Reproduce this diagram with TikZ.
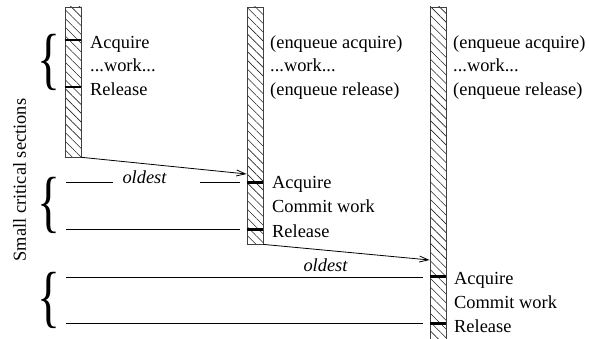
\documentclass[tikz,border=0pt]{standalone}
\usepackage{fontspec}
\setmainfont{Liberation Serif}
\usetikzlibrary{patterns.meta,arrows.meta}
\begin{document}
\begin{tikzpicture}[x=1pt,y=-1pt,
  bar/.style={draw=black!75, line width=0.8pt, minimum width=16pt, inner sep=0pt,
    pattern={Lines[angle=-45,distance=6.2pt,line width=0.6pt]}, pattern color=black!85},
  tickmark/.style={line width=2.6pt},
  conn/.style={line width=0.8pt},
  arr/.style={line width=0.8pt, -{Straight Barb[length=9pt,width=6pt]}},
  lbl/.style={anchor=base west, inner sep=0pt, font=\fontsize{18.4}{22}\selectfont},
  oldlbl/.style={anchor=base, inner sep=0pt, font=\fontsize{18.4}{22}\selectfont\itshape},
  bracenode/.style={inner sep=0pt, font=\fontsize{18.4}{22}\selectfont}]
\useasboundingbox (0,0) rectangle (589,339);
\clip (0,0) rectangle (589,339);

% bars
\node[bar, minimum height=150pt] (b1) at (73,82) {};
\node[bar, minimum height=237pt] (b2) at (255,125.5) {};
\node[bar, minimum height=338pt] (b3) at (438,176) {};

% ticks
\draw[tickmark] (b1.west |- 0,40) -- (b1.east |- 0,40);
\draw[tickmark] (b1.west |- 0,87) -- (b1.east |- 0,87);
\draw[tickmark] (b2.west |- 0,182.5) -- (b2.east |- 0,182.5);
\draw[tickmark] (b2.west |- 0,229.5) -- (b2.east |- 0,229.5);
\draw[tickmark] (b3.west |- 0,276.5) -- (b3.east |- 0,276.5);
\draw[tickmark] (b3.west |- 0,323.5) -- (b3.east |- 0,323.5);

% texts bar 1
\node[lbl] (t11) at (90,48.5) {Acquire};
\node[lbl] (t12) at (90,72) {...work...};
\node[lbl] (t13) at (90,95.5) {Release};
% texts bar 2
\node[lbl] (t21) at (270,48.5) {(enqueue acquire)};
\node[lbl] (t22) at (270,72) {...work...};
\node[lbl] (t23) at (270,95.5) {(enqueue release)};
\node[lbl] (t24) at (272,189) {Acquire};
\node[lbl] (t25) at (272,213) {Commit work};
\node[lbl] (t26) at (272,237) {Release};
% texts bar 3
\node[lbl] (t31) at (453,48.5) {(enqueue acquire)};
\node[lbl] (t32) at (453,72) {...work...};
\node[lbl] (t33) at (453,95.5) {(enqueue release)};
\node[lbl] (t34) at (454,284) {Acquire};
\node[lbl] (t35) at (454,308) {Commit work};
\node[lbl] (t36) at (454,332) {Release};

% arrows
\coordinate (a1) at (b2.west |- 0,174);
\coordinate (a2) at (b3.west |- 0,260);
\draw[arr] (b1.south east) -- (a1);
\draw[arr] (b2.south east) -- (a2);

% horizontal lines
\node[oldlbl] (o1) at (144.5,184) {oldest};
\node[oldlbl] (o2) at (325.5,272) {oldest};
\coordinate (l1a) at (66,182.5);
\coordinate (l1b) at (113,182.5);
\coordinate (l1c) at (200,182.5);
\coordinate (l1d) at (240,182.5);
\draw[conn] (l1a) -- (l1b);
\draw[conn] (l1c) -- (l1d);
\coordinate (l2a) at (66,229.5);
\coordinate (l2b) at (240,229.5);
\draw[conn] (l2a) -- (l2b);
\coordinate (l3a) at (66,277);
\coordinate (l3b) at (423,277);
\draw[conn] (l3a) -- (l3b);
\coordinate (l4a) at (66,323.5);
\coordinate (l4b) at (423,323.5);
\draw[conn] (l4a) -- (l4b);

% braces
\node[bracenode] (br1) at (48.5,62.5) {\scalebox{2.6}[3.7]{\{}};
\node[bracenode] (br2) at (48.5,205) {\scalebox{2.6}[3.7]{\{}};
\node[bracenode] (br3) at (48.5,300) {\scalebox{2.6}[3.7]{\{}};

% side label
\node[bracenode, rotate=90] (side) at (19.5,180) {Small critical sections};
\end{tikzpicture}
\end{document}
